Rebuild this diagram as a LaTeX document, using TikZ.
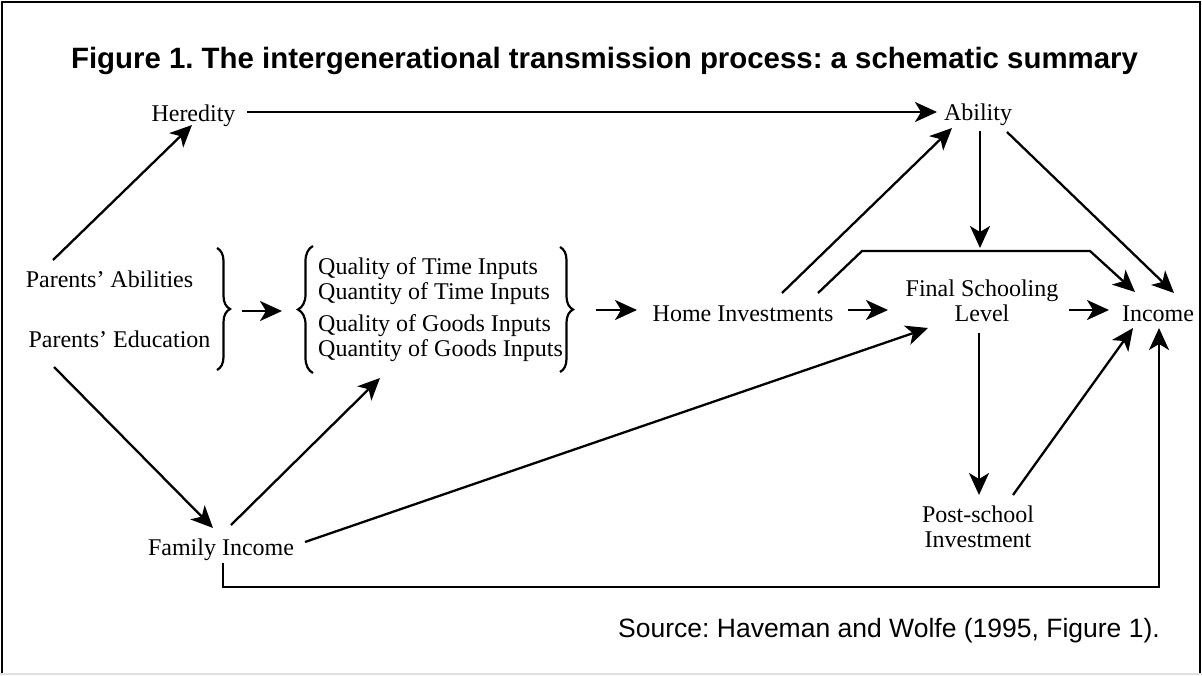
\documentclass[tikz,border=0pt]{standalone}
\usepackage{fontspec}
\setmainfont{Liberation Serif}
\newfontfamily\arialfont{Liberation Sans}
\usetikzlibrary{arrows.meta,calc,decorations.pathreplacing}
\frenchspacing
\begin{document}
\begin{tikzpicture}[x=1pt,y=-1pt,
  lbl/.style={font=\fontsize{24}{25}\selectfont, inner sep=0pt, anchor=base},
  arr/.style={line width=2.3pt, -{Stealth[length=22pt,width=20pt,inset=6pt]}},
  brc/.style={line width=2.2pt, decorate, decoration={brace, amplitude=#1}}]
\useasboundingbox (0,0) rectangle (1202,675);
\fill[white] (0,0) rectangle (1202,675);
% frame
\draw[line width=2pt] (2,675) -- (2,2) -- (1200,2) -- (1200,675);
\draw[black!12, line width=2pt] (0,673.5) -- (1202,673.5);

% title and source
\node[font=\arialfont\bfseries\fontsize{29.4}{30}\selectfont, inner sep=0pt, anchor=base] (title) at (604.5,68)
  {Figure 1. The intergenerational transmission process: a schematic summary};
\node[font=\arialfont\fontsize{26.5}{28}\selectfont, inner sep=0pt, anchor=base east] (src) at (1160,637)
  {Source: Haveman and Wolfe (1995, Figure 1).};

% nodes
\node[lbl] (Her) at (193.5,121) {Heredity};
\node[lbl] (Abl) at (978,120) {Ability};
\node[lbl] (PA) at (109.5,287) {Parents’ Abilities};
\node[lbl] (PE) at (119.5,347) {Parents’ Education};
\node[lbl, anchor=base west] (IN) at (318,274)
  {\begin{tabular}[t]{@{}l@{}}Quality of Time Inputs\\ Quantity of Time Inputs\\[7pt] Quality of Goods Inputs\\ Quantity of Goods Inputs\end{tabular}};
\node[lbl] (HI) at (743,321) {Home Investments};
\node[lbl] (FSL) at (982,321) {\begin{tabular}[b]{@{}c@{}}Final Schooling\\ Level\end{tabular}};
\node[lbl] (Inc) at (1158,321) {Income};
\node[lbl] (PS) at (978,547) {\begin{tabular}[b]{@{}c@{}}Post-school\\ Investment\end{tabular}};
\node[lbl] (FI) at (221,555) {Family Income};

% braces
\draw[brc=13pt] ($(IN.base west)+(-101,-26)$) -- ($(IN.base west)+(-101,96)$);
\draw[brc=15pt] ($(IN.base west)+(-5,99)$) -- ($(IN.base west)+(-5,-28)$);
\draw[brc=13pt] ($(IN.base west)+(242,-27)$) -- ($(IN.base west)+(242,98)$);

% connectors
\draw[arr] ($(PA.base)+(-56.5,-27)$) -- ($(Her.base)+(-1.5,4)$);
\draw[arr, line width=2.6pt] ($(Her.base)+(53.5,-9)$) -- ($(Abl.base)+(-41,-8)$);
\draw[arr] ($(PE.base)+(-65.5,20)$) -- ($(FI.base)+(-8,-27)$);
\draw[arr] ($(FI.base)+(10,-30)$) -- ($(IN.base west)+(62,104)$);
\draw[arr] ($(FI.base)+(84,-13)$) -- ($(FSL.base)+(-54,7)$);
\draw[arr] ($(IN.base west)+(-76,37)$) -- ($(IN.base west)+(-36,37)$);
\draw[arr] ($(HI.base)+(-147,-11)$) -- ($(HI.base)+(-106,-11)$);
\draw[arr] ($(HI.base)+(105,-11)$) -- ($(FSL.base)+(-94,-11)$);
\draw[arr] ($(FSL.base)+(87,-11)$) -- ($(Inc.base)+(-49,-11)$);
\draw[arr] ($(HI.base)+(39,-28)$) -- ($(Abl.base)+(-26,8)$);
\draw[arr] ($(HI.base)+(75,-28)$) -- ($(Abl.base)+(-116,131)$) -- ($(Abl.base)+(112,131)$) -- ($(Inc.base)+(-23,-29)$);
\draw[arr] ($(Abl.base)+(2,11)$) -- ($(FSL.base)+(-2,-73)$);
\draw[arr] ($(Abl.base)+(29,12)$) -- ($(Inc.base)+(16,-28)$);
\draw[arr] ($(FSL.base)+(-3,12)$) -- ($(PS.base)+(1,-52)$);
\draw[arr] ($(PS.base)+(35,-52)$) -- ($(Inc.base)+(-25,7)$);
\draw[arr] ($(FI.base)+(2,8)$) -- ($(FI.base)+(2,32)$) -| ($(Inc.base)+(1,7)$);
\end{tikzpicture}
\end{document}
